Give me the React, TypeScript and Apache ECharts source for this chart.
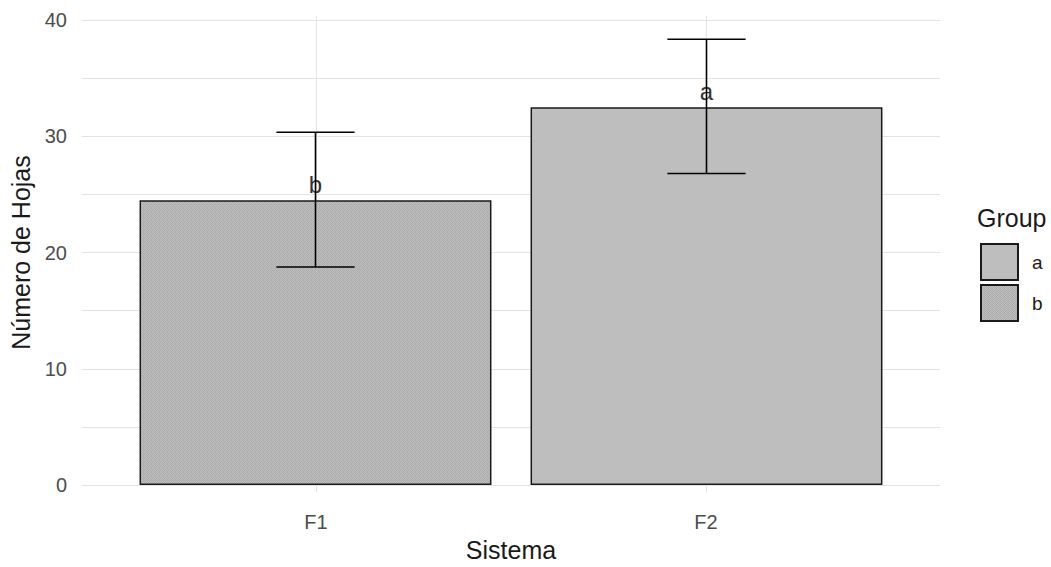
import React, { useEffect, useRef } from "react";
import * as echarts from "echarts";

const categories = ["F1", "F2"];
const groupOf = ["b", "a"];
const legendGroups = ["a", "b"];
const means = [24.5, 32.5];
const lower = [18.75, 26.8];
const upper = [30.35, 38.35];
const yTicks = [0, 10, 20, 30, 40];

const FONT = "Liberation Sans, Arial, sans-serif";

function makePattern(): HTMLCanvasElement {
  const c = document.createElement("canvas");
  c.width = 4;
  c.height = 4;
  const ctx = c.getContext("2d")!;
  const shades = [
    176, 192, 170, 186,
    188, 172, 194, 168,
    168, 190, 176, 192,
    194, 174, 186, 172,
  ];
  for (let i = 0; i < 16; i++) {
    const v = shades[i];
    ctx.fillStyle = `rgb(${v},${v},${v})`;
    ctx.fillRect(i % 4, Math.floor(i / 4), 1, 1);
  }
  return c;
}

export default function App() {
  const ref = useRef<HTMLDivElement>(null);
  useEffect(() => {
    if (!ref.current) return;
    const chart = echarts.init(ref.current, null, { renderer: "svg" });
    const pattern = makePattern();
    const fills: Record<string, any> = {
      a: "#BEBEBE",
      b: { image: pattern, repeat: "repeat" },
    };
    const barSeries = legendGroups.map((g) => ({
      name: g,
      type: "bar",
      xAxisIndex: 0,
      yAxisIndex: 0,
      barWidth: "90%",
      barGap: "-100%",
      data: means.map((m, i) => (groupOf[i] === g ? m : null)),
      itemStyle: { color: fills[g], borderColor: "#1A1A1A", borderWidth: 1.5 },
      label: {
        show: true,
        position: "top",
        distance: 4,
        formatter: () => g,
        fontFamily: FONT,
        fontSize: 24,
        color: "#333333",
      },
      z: 2,
    }));

    const option: any = {
      animation: false,
      textStyle: { fontFamily: FONT },
      grid: [
        { left: 120, right: 149, top: 20, bottom: 82 },
        { left: 82, right: 111, top: 20, bottom: 82 },
        { left: 316, right: 345, top: 16, bottom: 60 },
      ],
      xAxis: [
        { gridIndex: 0, type: "category", data: categories, boundaryGap: true, show: false },
        { gridIndex: 1, type: "value", min: 0, max: 1, show: false },
        {
          gridIndex: 2,
          type: "category",
          data: categories,
          boundaryGap: false,
          axisLine: { show: false },
          axisTick: { show: false },
          axisLabel: { color: "#4D4D4D", fontSize: 20, margin: 20, fontFamily: FONT },
          splitLine: { show: true, lineStyle: { color: "#E3E3E3", width: 1 } },
          name: "Sistema",
          nameLocation: "middle",
          nameGap: 42,
          nameTextStyle: { color: "#1A1A1A", fontSize: 25, fontFamily: FONT },
        },
      ],
      yAxis: [
        { gridIndex: 0, type: "value", min: 0, max: 40, show: false },
        {
          gridIndex: 1,
          type: "value",
          min: 0,
          max: 40,
          interval: 5,
          axisLine: { show: false },
          axisTick: { show: false },
          axisLabel: {
            color: "#4D4D4D",
            fontSize: 20,
            margin: 15,
            fontFamily: FONT,
            formatter: (v: number) => (yTicks.includes(v) ? String(v) : ""),
          },
          splitLine: { show: true, lineStyle: { color: "#E3E3E3", width: 1 } },
          name: "Número de Hojas",
          nameLocation: "middle",
          nameGap: 37,
          nameRotate: 90,
          nameTextStyle: { color: "#1A1A1A", fontSize: 25, fontFamily: FONT },
        },
        { gridIndex: 2, type: "value", min: 0, max: 1, show: false },
      ],
      legend: {
        data: legendGroups,
        orient: "vertical",
        left: 980,
        top: 243,
        padding: 0,
        itemWidth: 37,
        itemHeight: 36,
        itemGap: 3,
        icon: "rect",
        selectedMode: false,
        textStyle: { fontSize: 19, color: "#1A1A1A", fontFamily: FONT, padding: [0, 0, 0, 9] },
      },
      graphic: [
        {
          type: "text",
          left: 977,
          top: 205,
          style: { text: "Group", fontSize: 25, fill: "#1A1A1A", fontFamily: FONT },
        },
      ],
      series: [
        ...barSeries,
        {
          type: "custom",
          xAxisIndex: 0,
          yAxisIndex: 0,
          z: 5,
          data: categories.map((_, i) => [i, lower[i], upper[i]]),
          renderItem: (params: any, api: any) => {
            const x = api.value(0);
            const lo = api.coord([x, api.value(1)]);
            const hi = api.coord([x, api.value(2)]);
            const half = api.size([1, 0])[0] * 0.1;
            const style = { stroke: "#000000", lineWidth: 1.6 };
            return {
              type: "group",
              children: [
                { type: "line", shape: { x1: lo[0], y1: lo[1], x2: hi[0], y2: hi[1] }, style },
                { type: "line", shape: { x1: hi[0] - half, y1: hi[1], x2: hi[0] + half, y2: hi[1] }, style },
                { type: "line", shape: { x1: lo[0] - half, y1: lo[1], x2: lo[0] + half, y2: lo[1] }, style },
              ],
            };
          },
        },
      ],
    };
    chart.setOption(option);
    return () => chart.dispose();
  }, []);
  return <div ref={ref} style={{ width: 1051, height: 567, position: "absolute", left: 0, top: 0 }} />;
}
